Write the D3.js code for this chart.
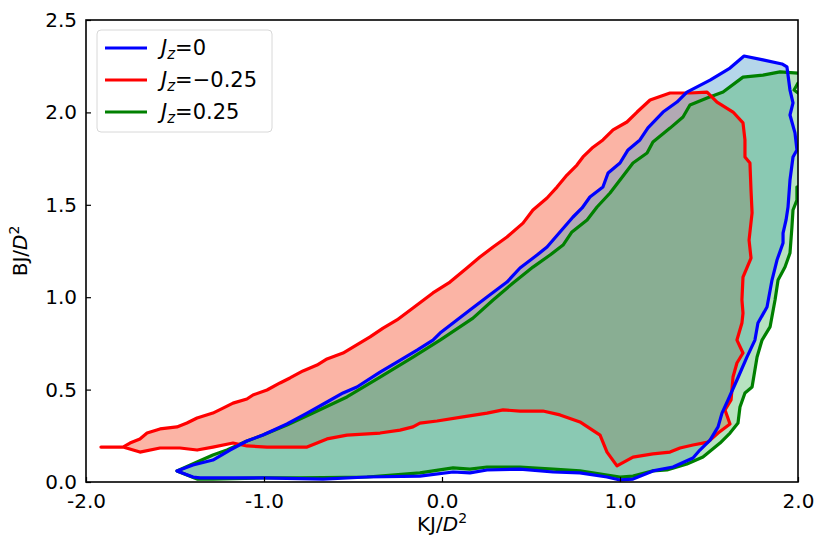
<!DOCTYPE html>
<html>
<head>
<meta charset="utf-8">
<script src="https://cdn.jsdelivr.net/npm/d3@7"></script>
<style>
  body { margin: 0; background: #fff; }
  text { font-family: "DejaVu Sans", sans-serif; }
</style>
</head>
<body>
<div id="chart"></div>
<script>
// Boundary of the region for Jz = 0 (blue), as [K, B] pairs
const blueEdge = [
  [-1.489, 0.060], [-1.399, 0.092], [-1.287, 0.119], [-1.191, 0.173], [-1.096, 0.222],
  [-1.006, 0.254], [-0.871, 0.314], [-0.758, 0.373], [-0.646, 0.433], [-0.556, 0.482],
  [-0.478, 0.514], [-0.348, 0.595], [-0.253, 0.649], [-0.140, 0.714], [-0.051, 0.768],
  [-0.011, 0.806], [0.084, 0.877], [0.157, 0.931], [0.253, 1.001], [0.365, 1.082],
  [0.438, 1.158], [0.534, 1.228], [0.590, 1.272], [0.663, 1.353], [0.736, 1.434],
  [0.787, 1.483], [0.831, 1.542], [0.904, 1.596], [0.933, 1.672], [1.000, 1.726],
  [1.045, 1.797], [1.112, 1.851], [1.157, 1.916], [1.242, 2.002], [1.320, 2.056],
  [1.376, 2.110], [1.506, 2.175], [1.618, 2.240], [1.697, 2.305], [1.803, 2.284],
  [1.910, 2.262], [1.938, 2.246], [1.955, 2.121], [1.972, 2.051], [1.955, 1.986],
  [1.983, 1.889], [1.994, 1.797], [1.972, 1.759], [1.955, 1.634], [1.944, 1.488],
  [1.933, 1.418], [1.916, 1.347], [1.916, 1.293], [1.882, 1.201], [1.854, 1.093],
  [1.826, 0.947], [1.775, 0.860], [1.758, 0.768], [1.713, 0.676], [1.657, 0.552],
  [1.607, 0.444], [1.573, 0.373], [1.551, 0.298], [1.506, 0.227], [1.449, 0.173],
  [1.410, 0.130], [1.298, 0.081], [1.185, 0.060], [1.073, 0.016], [1.000, 0.011],
  [0.927, 0.027], [0.775, 0.049], [0.624, 0.054], [0.438, 0.070], [0.253, 0.065],
  [0.157, 0.049], [0.062, 0.054], [-0.124, 0.032], [-0.421, 0.027], [-0.669, 0.016],
  [-1.006, 0.022], [-1.360, 0.022], [-1.399, 0.027]
];

// Jz = -0.25 (red)
const redEdge = [
  [-1.916, 0.189], [-1.792, 0.189], [-1.753, 0.211], [-1.697, 0.233], [-1.657, 0.265],
  [-1.584, 0.287], [-1.489, 0.298], [-1.433, 0.319], [-1.376, 0.346], [-1.287, 0.373],
  [-1.230, 0.400], [-1.174, 0.427], [-1.096, 0.449], [-1.062, 0.471], [-0.983, 0.498],
  [-0.910, 0.536], [-0.854, 0.563], [-0.781, 0.601], [-0.702, 0.633], [-0.646, 0.666],
  [-0.556, 0.698], [-0.500, 0.730], [-0.404, 0.785], [-0.331, 0.833], [-0.253, 0.877],
  [-0.163, 0.942], [-0.051, 1.023], [0.045, 1.082], [0.140, 1.158], [0.213, 1.217],
  [0.287, 1.272], [0.365, 1.326], [0.455, 1.401], [0.511, 1.472], [0.590, 1.537],
  [0.646, 1.596], [0.702, 1.661], [0.758, 1.715], [0.792, 1.759], [0.843, 1.807],
  [0.904, 1.851], [0.961, 1.905], [1.039, 1.948], [1.096, 2.002], [1.169, 2.067],
  [1.281, 2.105], [1.393, 2.105], [1.489, 2.110], [1.545, 2.056], [1.635, 2.002],
  [1.691, 1.943], [1.702, 1.851], [1.702, 1.759], [1.730, 1.726], [1.736, 1.580],
  [1.742, 1.456], [1.725, 1.309], [1.736, 1.212], [1.691, 1.109], [1.685, 0.985],
  [1.691, 0.914], [1.685, 0.860], [1.657, 0.768], [1.691, 0.698], [1.657, 0.644],
  [1.635, 0.568], [1.624, 0.444], [1.590, 0.390], [1.618, 0.314], [1.551, 0.265],
  [1.494, 0.216], [1.410, 0.200], [1.337, 0.184], [1.281, 0.162], [1.185, 0.152],
  [1.073, 0.135], [0.983, 0.087], [0.927, 0.162], [0.888, 0.254], [0.775, 0.325],
  [0.663, 0.363], [0.567, 0.384], [0.438, 0.384], [0.343, 0.390], [0.253, 0.373],
  [0.118, 0.352], [-0.028, 0.330], [-0.124, 0.319], [-0.163, 0.298], [-0.236, 0.281],
  [-0.348, 0.265], [-0.534, 0.254], [-0.646, 0.233], [-0.758, 0.189], [-0.983, 0.189],
  [-1.096, 0.195], [-1.174, 0.211], [-1.287, 0.189], [-1.376, 0.173], [-1.472, 0.184],
  [-1.584, 0.184], [-1.697, 0.162], [-1.792, 0.189]
];

// Jz = 0.25 (green); it runs past K = 2 on the right and is clipped there
const greenEdge = [
  [-1.489, 0.060], [-1.376, 0.108], [-1.287, 0.146], [-1.208, 0.173], [-1.096, 0.222],
  [-1.006, 0.254], [-0.871, 0.308], [-0.725, 0.373], [-0.534, 0.460], [-0.348, 0.568],
  [-0.163, 0.676], [-0.011, 0.768], [0.174, 0.887], [0.287, 0.985], [0.399, 1.077],
  [0.511, 1.163], [0.607, 1.228], [0.680, 1.282], [0.730, 1.353], [0.815, 1.418],
  [0.871, 1.488], [0.944, 1.564], [1.000, 1.634], [1.073, 1.726], [1.152, 1.780],
  [1.185, 1.840], [1.281, 1.915], [1.354, 1.975], [1.393, 2.040], [1.489, 2.078],
  [1.579, 2.110], [1.691, 2.191], [1.803, 2.202], [1.899, 2.219], [2.000, 2.213],
  [2.040, 2.213], [2.040, 2.164], [2.000, 2.159], [1.978, 2.121], [2.000, 2.105],
  [2.040, 2.094], [2.040, 1.607], [1.994, 1.596], [1.994, 1.526], [1.972, 1.472],
  [1.966, 1.380], [1.955, 1.239], [1.927, 1.163], [1.888, 1.093], [1.871, 0.985],
  [1.843, 0.839], [1.798, 0.768], [1.770, 0.676], [1.742, 0.514], [1.702, 0.482],
  [1.674, 0.406], [1.663, 0.319], [1.618, 0.265], [1.562, 0.211], [1.466, 0.135],
  [1.376, 0.097], [1.264, 0.065], [1.185, 0.060], [1.073, 0.032], [1.000, 0.027],
  [0.927, 0.038], [0.775, 0.060], [0.624, 0.070], [0.438, 0.081], [0.253, 0.081],
  [0.157, 0.070], [0.062, 0.076], [-0.124, 0.049], [-0.421, 0.027], [-0.798, 0.022],
  [-1.006, 0.022], [-1.287, 0.016], [-1.376, 0.016], [-1.433, 0.038]
];

const xTicks = [-2, -1, 0, 1, 2];
const yTicks = [0, 0.5, 1, 1.5, 2, 2.5];
const seriesNames = ["0", "\u22120.25", "0.25"];

const width = 831, height = 549;
const margin = { top: 20, right: 33, bottom: 67, left: 86 };
const plotW = width - margin.left - margin.right;
const plotH = height - margin.top - margin.bottom;

const svg = d3.select("#chart").append("svg")
  .attr("width", width)
  .attr("height", height);

const g = svg.append("g")
  .attr("transform", `translate(${margin.left},${margin.top})`);

const x = d3.scaleLinear().domain([-2, 2]).range([0, plotW]);
const y = d3.scaleLinear().domain([0, 2.5]).range([plotH, 0]);

g.append("clipPath").attr("id", "plot-clip")
  .append("rect").attr("width", plotW).attr("height", plotH);

const outline = d3.line().x(d => x(d[0])).y(d => y(d[1]));
const closed = pts => outline(pts) + "Z";

// fills go red, blue, green so the overlaps blend like the original
const series = [
  { pts: redEdge, fill: "rgb(245,67,30)", stroke: "#ff0000" },
  { pts: blueEdge, fill: "rgb(70,152,202)", stroke: "#0000ff" },
  { pts: greenEdge, fill: "rgb(75,182,97)", stroke: "#008000" }
];

const area = g.append("g").attr("clip-path", "url(#plot-clip)");

series.forEach(s => {
  area.append("path")
    .attr("d", closed(s.pts))
    .attr("fill", s.fill)
    .attr("fill-opacity", 0.4)
    .attr("stroke", "none");
});

[series[2], series[0], series[1]].forEach(s => {
  area.append("path")
    .attr("d", closed(s.pts))
    .attr("fill", "none")
    .attr("stroke", s.stroke)
    .attr("stroke-width", 3.2)
    .attr("stroke-linejoin", "round");
});

// axes, ticks pointing inward
const xAxis = g.append("g")
  .attr("transform", `translate(0,${plotH})`)
  .call(d3.axisBottom(x).tickValues(xTicks).tickFormat(d3.format(".1f"))
    .tickSizeInner(-5).tickSizeOuter(0).tickPadding(12));

const yAxis = g.append("g")
  .call(d3.axisLeft(y).tickValues(yTicks).tickFormat(d3.format(".1f"))
    .tickSizeInner(-5).tickSizeOuter(0).tickPadding(9));

[xAxis, yAxis].forEach(a => {
  a.select(".domain").remove();
  a.selectAll(".tick line").attr("stroke", "#000").attr("stroke-width", 1.2);
  a.selectAll(".tick text")
    .attr("fill", "#000")
    .style("font-size", "20px")
    .style("font-family", "DejaVu Sans, sans-serif");
});
xAxis.selectAll(".tick text").text(d => d.toFixed(1));

g.append("rect")
  .attr("width", plotW).attr("height", plotH)
  .attr("fill", "none").attr("stroke", "#000").attr("stroke-width", 1.6);

// axis labels
const xLab = svg.append("text")
  .attr("x", margin.left + plotW / 2)
  .attr("y", 531)
  .attr("text-anchor", "middle")
  .style("font-size", "20px");
xLab.append("tspan").text("KJ/");
xLab.append("tspan").attr("font-style", "italic").text("D");
xLab.append("tspan").attr("dy", -8).style("font-size", "14px").text("2");

const yLab = svg.append("text")
  .attr("transform", `translate(27,${margin.top + plotH / 2}) rotate(-90)`)
  .attr("text-anchor", "middle")
  .style("font-size", "20px");
yLab.append("tspan").text("BJ/");
yLab.append("tspan").attr("font-style", "italic").text("D");
yLab.append("tspan").attr("dy", -8).style("font-size", "14px").text("2");

// legend
const legend = svg.append("g").attr("transform", "translate(97,30)");
legend.append("rect")
  .attr("width", 175).attr("height", 102)
  .attr("rx", 4)
  .attr("fill", "#fff").attr("fill-opacity", 0.8)
  .attr("stroke", "#d8d8d8").attr("stroke-width", 1);

const legendColors = ["#0000ff", "#ff0000", "#008000"];
seriesNames.forEach((name, i) => {
  const row = legend.append("g").attr("transform", `translate(0,${18 + i * 32})`);
  row.append("line")
    .attr("x1", 8).attr("x2", 50)
    .attr("stroke", legendColors[i]).attr("stroke-width", 3.2);
  const t = row.append("text")
    .attr("x", 64).attr("y", 7)
    .style("font-size", "21px");
  t.append("tspan").attr("font-style", "italic").text("J");
  t.append("tspan").attr("font-style", "italic").attr("dy", 4)
    .style("font-size", "15px").text("z");
  t.append("tspan").attr("dy", -4).text("=" + name);
});
</script>
</body>
</html>
